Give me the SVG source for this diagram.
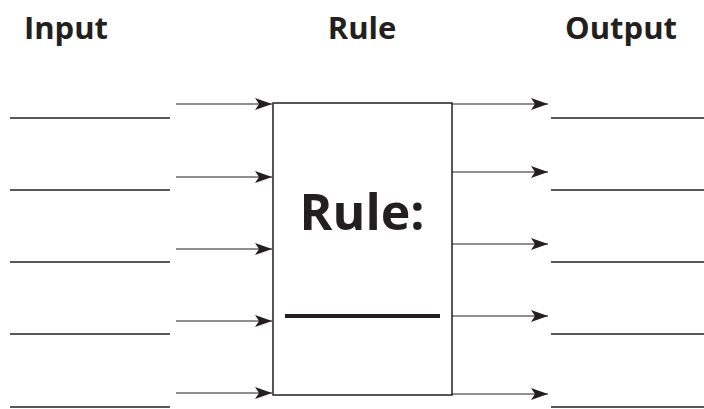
<svg xmlns="http://www.w3.org/2000/svg" width="704" height="409" viewBox="0 0 704 409">
<style>
.hdr{font-family:"Open Sans","Liberation Sans",sans-serif;font-weight:bold;font-size:31px;fill:#231f20;text-anchor:middle}
.big{font-family:"Open Sans","Liberation Sans",sans-serif;font-weight:bold;font-size:50px;fill:#231f20;text-anchor:middle}
.arr{stroke:#231f20;stroke-width:1.2;fill:none;marker-end:url(#ah)}
.blank{stroke:#231f20;stroke-width:1.6}
</style>
<defs>
<marker id="ah" markerUnits="userSpaceOnUse" markerWidth="18" markerHeight="12" viewBox="0 0 18 12" refX="17" refY="6" orient="auto">
<path d="M0,0 L17,6 L0,12 L4,6 Z" fill="#231f20"/>
</marker>
</defs>
<rect width="704" height="409" fill="#fff"/>
<g id="headers">
<text class="hdr" x="66" y="38.5">Input</text>
<text class="hdr" x="362" y="38.5">Rule</text>
<text class="hdr" x="621" y="38.5">Output</text>
</g>
<g id="rule-box">
<rect x="273" y="103" width="179" height="292" fill="#fff" stroke="#231f20" stroke-width="1.5"/>
<text class="big" x="362" y="230">Rule:</text>
<line x1="285" y1="316" x2="440" y2="316" stroke="#231f20" stroke-width="4"/>
</g>
<g id="input-blanks">
<line class="blank" x1="10" y1="118" x2="170" y2="118"/>
<line class="blank" x1="10" y1="190" x2="170" y2="190"/>
<line class="blank" x1="10" y1="262" x2="170" y2="262"/>
<line class="blank" x1="10" y1="334" x2="170" y2="334"/>
<line class="blank" x1="10" y1="407" x2="170" y2="407"/>
</g>
<g id="output-blanks">
<line class="blank" x1="551" y1="118" x2="704" y2="118"/>
<line class="blank" x1="551" y1="190" x2="704" y2="190"/>
<line class="blank" x1="551" y1="262" x2="704" y2="262"/>
<line class="blank" x1="551" y1="334" x2="704" y2="334"/>
<line class="blank" x1="551" y1="407" x2="704" y2="407"/>
</g>
<g id="connectors">
<line class="arr" x1="176" y1="104" x2="272" y2="104"/>
<line class="arr" x1="176" y1="177" x2="272" y2="177"/>
<line class="arr" x1="176" y1="249" x2="272" y2="249"/>
<line class="arr" x1="176" y1="321" x2="272" y2="321"/>
<line class="arr" x1="176" y1="393" x2="272" y2="393"/>
<line class="arr" x1="452" y1="104" x2="548" y2="104"/>
<line class="arr" x1="452" y1="172" x2="548" y2="172"/>
<line class="arr" x1="452" y1="244" x2="548" y2="244"/>
<line class="arr" x1="452" y1="316" x2="548" y2="316"/>
<line class="arr" x1="452" y1="394" x2="548" y2="394"/>
</g>
</svg>
